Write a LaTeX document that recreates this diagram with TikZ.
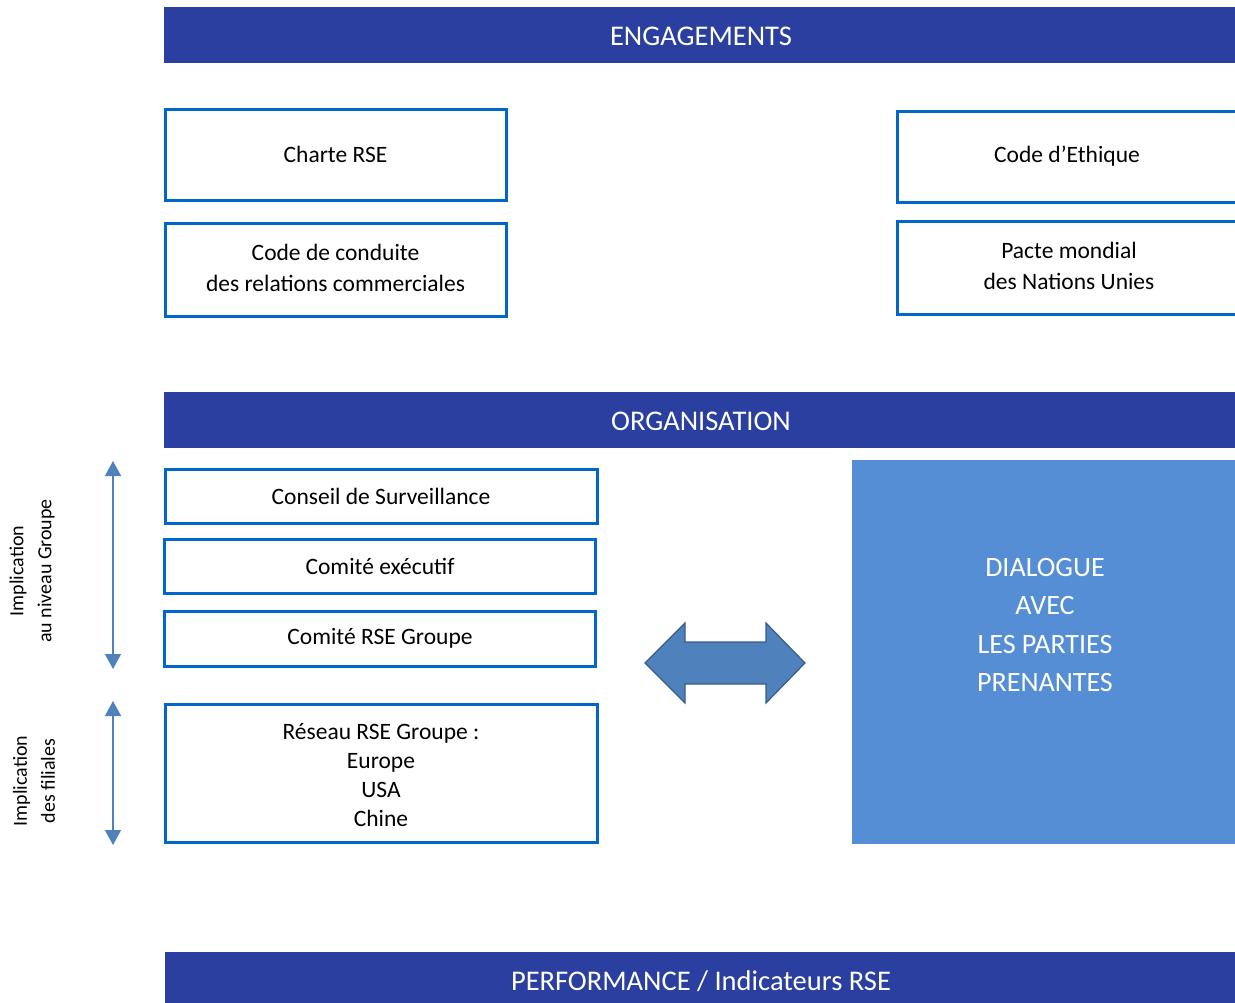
\documentclass[tikz,border=0pt]{standalone}
\usepackage{fontspec}
\setmainfont{Carlito}
\usetikzlibrary{arrows.meta}
\definecolor{band}{RGB}{42,63,159}
\definecolor{boxblue}{RGB}{0,102,204}
\definecolor{dialog}{RGB}{85,142,213}
\definecolor{arrfill}{RGB}{79,129,189}
\definecolor{arrdraw}{RGB}{56,93,138}
\begin{document}
\begin{tikzpicture}[x=1pt,y=-1pt,
  bandbox/.style={fill=band,draw=none,text=white,font=\fontsize{28.5}{34}\selectfont},
  itembox/.style={draw=boxblue,line width=3pt,fill=white,align=center,font=\fontsize{23.5}{31}\selectfont},
  sidelabel/.style={rotate=90,align=center,font=\fontsize{20}{28}\selectfont},
  vline/.style={draw=arrfill,line width=1.3pt,{Triangle[width=16pt,length=15pt]}-{Triangle[width=16pt,length=15pt]}}
]
\useasboundingbox (0,0) rectangle (1235,1003);
\fill[white] (0,0) rectangle (1235,1003);
% bands
\fill[band] (164,7) rectangle (1240,63);
\node[text=white,font=\fontsize{28.5}{34}\selectfont] (eng) at (701,36) {ENGAGEMENTS};
\fill[band] (164,392) rectangle (1240,448);
\node[text=white,font=\fontsize{28.5}{34}\selectfont] (org) at (701,421) {ORGANISATION};
\fill[band] (165,952) rectangle (1240,1010);
\node[text=white,font=\fontsize{28.5}{34}\selectfont] (perf) at (701,981) {PERFORMANCE / Indicateurs RSE};
% engagement boxes
\draw[draw=boxblue,line width=3pt] (165,110) rectangle (506,201);
\node[font=\fontsize{23.5}{31}\selectfont] (charte) at (335.5,154) {Charte RSE};
\draw[draw=boxblue,line width=3pt] (165,224) rectangle (506,316);
\node[align=center,font=\fontsize{23.5}{31}\selectfont] (conduite) at (335.5,268) {Code de conduite\\des relations commerciales};
\draw[draw=boxblue,line width=3pt] (897,112) rectangle (1245,203);
\node[font=\fontsize{23.5}{31}\selectfont] (ethique) at (1067,156) {Code d’Ethique};
\draw[draw=boxblue,line width=3pt] (897,222) rectangle (1245,314);
\node[align=center,font=\fontsize{23.5}{31}\selectfont] (pacte) at (1069,266) {Pacte mondial\\des Nations Unies};
% organisation boxes
\draw[draw=boxblue,line width=3pt] (165,469) rectangle (597,523);
\node[font=\fontsize{23.5}{31}\selectfont] (conseil) at (381,496) {Conseil de Surveillance};
\draw[draw=boxblue,line width=3pt] (164,539) rectangle (595,593);
\node[font=\fontsize{23.5}{31}\selectfont] (comex) at (380,566) {Comité exécutif};
\draw[draw=boxblue,line width=3pt] (164,611) rectangle (595,666);
\node[font=\fontsize{23.5}{31}\selectfont] (comrse) at (380,638) {Comité RSE Groupe};
\draw[draw=boxblue,line width=3pt] (165,704) rectangle (597,842);
\node[align=center,font=\fontsize{23.5}{29.3}\selectfont] (reseau) at (381,775) {Réseau RSE Groupe :\\Europe\\USA\\Chine};
% dialogue
\fill[dialog] (852,460) rectangle (1240,844);
\node[align=center,text=white,font=\fontsize{28}{38.5}\selectfont] (dial) at (1045,625) {DIALOGUE\\AVEC\\LES PARTIES\\PRENANTES};
% double arrow
\filldraw[fill=arrfill,draw=arrdraw,line width=1.2pt,line join=miter]
  (645,663) -- (685,623) -- (685,642) -- (766,642) -- (766,623) -- (805,663)
  -- (766,703) -- (766,684) -- (685,684) -- (685,703) -- cycle;
% vertical arrows
\coordinate (g1) at (113,461);
\coordinate (g2) at (113,669);
\coordinate (f1) at (113,701);
\coordinate (f2) at (113,845);
\draw[vline] (g1) -- (g2);
\draw[vline] (f1) -- (f2);
\node[sidelabel] (lg) at (32,571) {Implication\\au niveau Groupe};
\node[sidelabel] (lf) at (34,781) {Implication\\des filiales};
\end{tikzpicture}
\end{document}
